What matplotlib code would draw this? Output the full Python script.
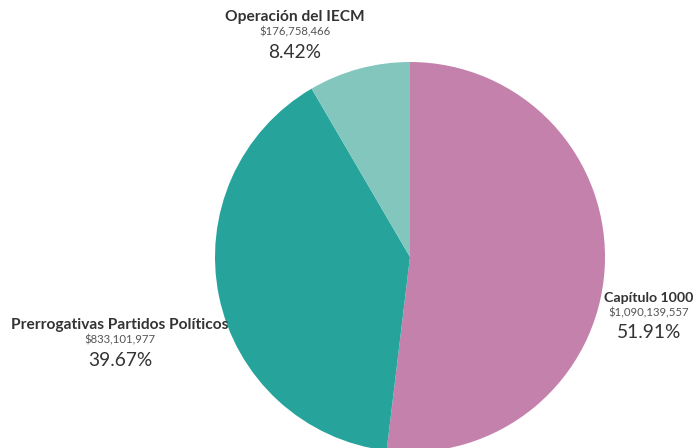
"""Pie chart of budget shares (IECM)."""

import matplotlib

matplotlib.use("Agg")
import matplotlib.pyplot as plt

plt.rcParams["font.family"] = ["Lato", "DejaVu Sans"]

# data, clockwise from 12 o'clock
categories = ["Capítulo 1000", "Prerrogativas Partidos Políticos", "Operación del IECM"]
amounts = [1090139557, 833101977, 176758466]
percents = [51.91, 39.67, 8.42]
colors = ["#C381AC", "#26A49C", "#82C6BE"]

W, H = 696, 448

fig = plt.figure(figsize=(W / 100, H / 100), dpi=100)
ax = fig.add_axes([0, 0, 1, 1])

# pie in pixel space (y measured from bottom)
cx, cy, r = 410, H - 257, 195
ax.pie(
    amounts,
    colors=colors,
    startangle=90,
    counterclock=False,
    center=(cx, cy),
    radius=r,
    wedgeprops=dict(linewidth=0),
)
ax.set_xlim(0, W)
ax.set_ylim(0, H)
ax.set_aspect("equal")
ax.axis("off")

# label anchors (center x, top-line y) in pixels from top
label_pos = [(649, 298), (120, 325), (295, 17)]
title_size = [10.2, 11.2, 11.2]
for name, amt, pct, (lx, ly), ts in zip(categories, amounts, percents,
                                         label_pos, title_size):
    ax.text(lx, H - ly, name, ha="center", va="center", fontsize=ts,
            fontweight="bold", color="#333333")
    ax.text(lx, H - ly - 15, f"${amt:,}", ha="center", va="center",
            fontsize=8.2, color="#555555")
    ax.text(lx, H - ly - 35, f"{pct:.2f}%", ha="center", va="center",
            fontsize=13.8, color="#333333")

fig.savefig("out.png", dpi=100, facecolor="white")
